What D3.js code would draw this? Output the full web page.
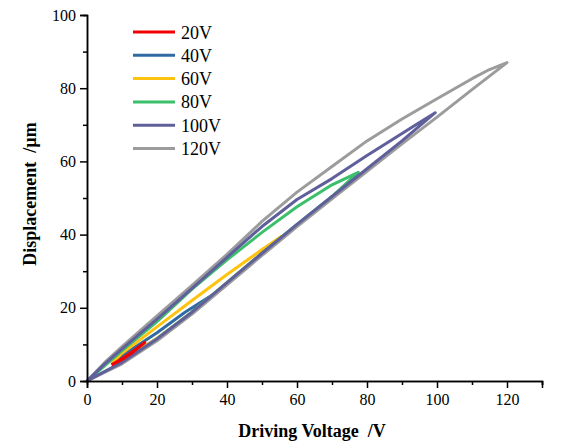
<!DOCTYPE html>
<html>
<head>
<meta charset="UTF-8">
<script src="https://cdn.jsdelivr.net/npm/d3@7"></script>
<style>
  body { margin: 0; padding: 0; background: #fff; }
  svg { display: block; }
  text { font-family: "Liberation Serif", "Times New Roman", serif; fill: #000; }
</style>
</head>
<body>
<svg id="chart" width="564" height="448"></svg>
<script>
// Légendes et ticks
const loopNames = ["20V", "40V", "60V", "80V", "100V", "120V"];
const xTicks = [0, 20, 40, 60, 80, 100, 120];
const yTicks = [0, 20, 40, 60, 80, 100];

// Branche montante (inférieure) de chaque boucle : [tension, déplacement]
const rise20 = [[7, 4.4], [10, 5.9], [13, 7.8], [16.5, 10.5]];
const rise40 = [[7, 4.6], [10, 5.6], [20, 11.6], [30, 18.8], [36, 23.6]];
const rise60 = [[7, 4.8], [10, 5.7], [20, 11.6], [30, 18.8], [40, 26.9], [50, 34.9], [55.5, 39.5]];
const rise80 = [[0, 0], [10, 5.1], [20, 11.5], [30, 18.8], [40, 26.9], [50, 34.9], [60, 42.8], [70, 50.4], [77.5, 57.0]];
const rise100 = [[0, 0], [10, 5.1], [20, 11.5], [30, 18.8], [40, 26.9], [50, 34.9], [60, 42.8], [70, 50.4], [80, 58.0], [90, 65.6], [99.5, 73.3]];
const rise120 = [[0, 0], [10, 4.7], [20, 11.0], [30, 18.3], [40, 26.3], [50, 34.3], [60, 42.2], [70, 49.8], [80, 57.3], [90, 64.8], [100, 72.1], [110, 79.6], [120, 87.0]];

// Branche descendante (supérieure) de chaque boucle
const fall20 = [[16.5, 10.5], [13, 8.0], [10, 6.1], [7, 4.4]];
const fall40 = [[36, 23.6], [28, 18.8], [20, 13.2], [10, 6.9], [7, 4.6]];
const fall60 = [[55.5, 39.5], [50, 35.9], [40, 29.1], [30, 22.0], [20, 14.8], [10, 7.6], [7, 4.8]];
const fall80 = [[77.5, 57.0], [70, 53.6], [60, 47.6], [50, 40.6], [40, 33.1], [30, 25.1], [20, 16.2], [10, 8.3], [0, 0]];
const fall100 = [[99.5, 73.3], [95, 70.6], [90, 67.6], [80, 61.6], [70, 55.3], [60, 49.6], [50, 42.2], [40, 33.8], [30, 25.3], [20, 16.9], [10, 8.8], [5, 4.6], [0, 0]];
const fall120 = [[120, 87.0], [115, 85.1], [110, 82.6], [100, 77.1], [90, 71.6], [80, 65.6], [70, 58.6], [60, 51.6], [50, 43.6], [40, 34.6], [30, 26.1], [20, 17.8], [10, 9.4], [5, 5.0], [0, 0]];

const rises = [rise20, rise40, rise60, rise80, rise100, rise120];
const falls = [fall20, fall40, fall60, fall80, fall100, fall120];
const colors = ["#f00000", "#2f6aa3", "#ffc20e", "#3cbf6a", "#5f5f9c", "#9c9c9c"];

const svg = d3.select("#chart");
const margin = { left: 87, right: 22, top: 15, bottom: 67 };
const width = 564 - margin.left - margin.right;
const height = 448 - margin.top - margin.bottom;

const x = d3.scaleLinear().domain([0, 130]).range([margin.left, margin.left + width]);
const y = d3.scaleLinear().domain([0, 100]).range([margin.top + height, margin.top]);

// Boucles : 40V..80V, 120V, 100V, et 20V tout en haut
const line = d3.line().x(d => x(d[0])).y(d => y(d[1]));
const order = [1, 2, 3, 5, 4, 0];
order.forEach(i => {
  svg.append("path")
    .attr("d", line(rises[i].concat(falls[i])))
    .attr("fill", "none")
    .attr("stroke", colors[i])
    .attr("stroke-width", 3)
    .attr("stroke-linejoin", "round");
});

// Axes
const xAxis = svg.append("g")
  .attr("transform", `translate(0,${margin.top + height})`)
  .call(d3.axisBottom(x).tickValues(xTicks).tickSize(7).tickPadding(6).tickFormat(d3.format("d")));
const xMinor = svg.append("g")
  .attr("transform", `translate(0,${margin.top + height})`)
  .call(d3.axisBottom(x).tickValues(d3.range(10, 140, 20)).tickSize(4).tickFormat(""));

const yAxis = svg.append("g")
  .attr("transform", `translate(${margin.left},0)`)
  .call(d3.axisLeft(y).tickValues(yTicks).tickSize(7).tickPadding(4).tickFormat(d3.format("d")));
const yMinor = svg.append("g")
  .attr("transform", `translate(${margin.left},0)`)
  .call(d3.axisLeft(y).tickValues(d3.range(10, 100, 20)).tickSize(4).tickFormat(""));

[xAxis, xMinor, yAxis, yMinor].forEach(a => {
  a.selectAll("path.domain").attr("stroke", "#000").attr("stroke-width", 1.5);
  a.selectAll(".tick line").attr("stroke", "#000").attr("stroke-width", 1.5);
  a.selectAll(".tick text")
    .style("font-family", "'Liberation Serif', serif")
    .style("font-size", "16px")
    .attr("fill", "#000");
});

// Titres des axes
svg.append("text")
  .attr("x", 312)
  .attr("y", 437)
  .attr("text-anchor", "middle")
  .style("font-size", "18px")
  .style("font-weight", "bold")
  .style("white-space", "pre")
  .text("Driving Voltage  /V");

svg.append("text")
  .attr("transform", "translate(36,194) rotate(-90)")
  .attr("text-anchor", "middle")
  .style("font-size", "18px")
  .style("font-weight", "bold")
  .style("white-space", "pre")
  .text("Displacement  /µm");

// Légende
const legend = svg.append("g");
loopNames.forEach((name, i) => {
  const cy = 32 + i * 23.3;
  legend.append("line")
    .attr("x1", 133).attr("x2", 175)
    .attr("y1", cy).attr("y2", cy)
    .attr("stroke", colors[i])
    .attr("stroke-width", 3);
  legend.append("text")
    .attr("x", 181)
    .attr("y", cy + 6.5)
    .style("font-size", "18px")
    .text(name);
});
</script>
</body>
</html>
